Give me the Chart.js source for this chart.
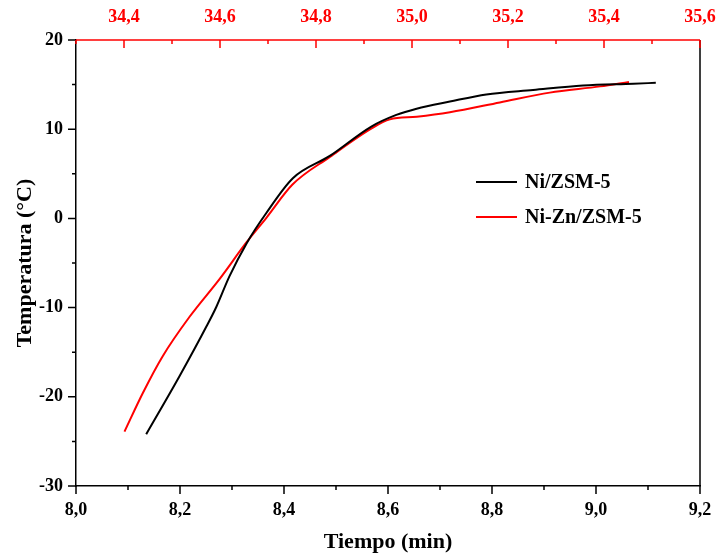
<!DOCTYPE html>
<html>
<head>
<meta charset="utf-8">
<script src="https://cdn.jsdelivr.net/npm/chart.js@4.4.1/dist/chart.umd.min.js"></script>
<style>
html, body { margin: 0; padding: 0; background: #fff; }
#wrap { width: 717px; height: 556px; }
</style>
</head>
<body>
<div id="wrap"><canvas id="chart" width="717" height="556"></canvas></div>
<script>
// Ni/ZSM-5 -> bottom axis, Tiempo (min)
var niTime = [8.135, 8.199, 8.251, 8.270, 8.295, 8.328, 8.366, 8.417, 8.488, 8.568, 8.616, 8.655, 8.719, 8.789, 8.879, 8.975, 9.072, 9.115];
var niTemp = [-24.2, -17.7, -12.1, -9.9, -6.5, -2.8, 0.6, 4.5, 7.0, 10.3, 11.6, 12.3, 13.1, 13.9, 14.4, 14.9, 15.1, 15.2];

// Ni-Zn/ZSM-5 -> top (red) axis
var niZnTime = [34.401, 34.439, 34.480, 34.537, 34.599, 34.655, 34.697, 34.751, 34.829, 34.916, 34.954, 35.010, 35.079, 35.183, 35.287, 35.392, 35.452];
var niZnTemp = [-23.9, -19.6, -15.5, -11.0, -6.8, -2.7, 0.1, 3.8, 6.9, 10.1, 11.1, 11.4, 11.9, 13.0, 14.1, 14.8, 15.3];

var bottomTicks = [8.0, 8.2, 8.4, 8.6, 8.8, 9.0, 9.2];
var bottomMinor = [8.1, 8.3, 8.5, 8.7, 8.9, 9.1];
var topTicks = [34.4, 34.6, 34.8, 35.0, 35.2, 35.4, 35.6];
var topMinor = [34.3, 34.5, 34.7, 34.9, 35.1, 35.3, 35.5];
var tempTicks = [-30, -20, -10, 0, 10, 20];
var tempMinor = [-25, -15, -5, 5, 15];

var seriesNames = ['Ni/ZSM-5', 'Ni-Zn/ZSM-5'];
var seriesColors = ['#000000', '#ff0000'];

var serif = "'Liberation Serif', 'Times New Roman', serif";

function pairs(xs, ys) {
    return xs.map(function(x, i) { return { x: x, y: ys[i] }; });
}

function comma(v) {
    return v.toFixed(1).replace('.', ',');
}

function fixTicks(list) {
    return function(scale) {
        scale.ticks = list.map(function(v) { return { value: v }; });
    };
}

function noSidePad(s) {
    s.paddingLeft = 0;
    s.paddingRight = 0;
}

// tick marks (major + minor), right frame line, legend
var frameTicks = {
    id: 'frameTicks',
    afterDraw: function(chart) {
        var ctx = chart.ctx;
        var a = chart.chartArea;
        var sx = chart.scales.x, sx2 = chart.scales.x2, sy = chart.scales.y;
        ctx.save();
        ctx.lineWidth = 1.5;

        ctx.strokeStyle = '#000';
        ctx.beginPath();
        ctx.moveTo(a.right, a.top);
        ctx.lineTo(a.right, a.bottom);
        bottomTicks.forEach(function(v) {
            var p = sx.getPixelForValue(v);
            ctx.moveTo(p, a.bottom); ctx.lineTo(p, a.bottom + 8);
        });
        bottomMinor.forEach(function(v) {
            var p = sx.getPixelForValue(v);
            ctx.moveTo(p, a.bottom); ctx.lineTo(p, a.bottom + 4);
        });
        tempTicks.forEach(function(v) {
            var p = sy.getPixelForValue(v);
            ctx.moveTo(a.left - 8, p); ctx.lineTo(a.left, p);
        });
        tempMinor.forEach(function(v) {
            var p = sy.getPixelForValue(v);
            ctx.moveTo(a.left - 4, p); ctx.lineTo(a.left, p);
        });
        ctx.stroke();

        ctx.strokeStyle = '#ff0000';
        ctx.beginPath();
        topTicks.forEach(function(v) {
            var p = sx2.getPixelForValue(v);
            ctx.moveTo(p, a.top); ctx.lineTo(p, a.top + 8);
        });
        topMinor.forEach(function(v) {
            var p = sx2.getPixelForValue(v);
            ctx.moveTo(p, a.top); ctx.lineTo(p, a.top + 4);
        });
        ctx.moveTo(a.left, a.top);
        ctx.lineTo(a.right, a.top);
        ctx.stroke();

        // legend inside the plot
        ctx.font = 'bold 20px ' + serif;
        ctx.textBaseline = 'middle';
        ctx.textAlign = 'left';
        ctx.lineWidth = 2;
        var lx = a.left + 400, ly = a.top + 142;
        chart.data.datasets.forEach(function(ds, i) {
            var y = ly + i * 35;
            ctx.strokeStyle = ds.borderColor;
            ctx.beginPath();
            ctx.moveTo(lx, y); ctx.lineTo(lx + 41, y);
            ctx.stroke();
            ctx.fillStyle = '#000';
            ctx.fillText(ds.label, lx + 49, y + 1);
        });
        ctx.restore();
    }
};

new Chart(document.getElementById('chart'), {
    type: 'line',
    data: {
        datasets: [{
            label: seriesNames[0],
            data: pairs(niTime, niTemp),
            xAxisID: 'x',
            yAxisID: 'y',
            borderColor: seriesColors[0],
            borderWidth: 2,
            pointRadius: 0,
            cubicInterpolationMode: 'monotone'
        }, {
            label: seriesNames[1],
            data: pairs(niZnTime, niZnTemp),
            xAxisID: 'x2',
            yAxisID: 'y',
            borderColor: seriesColors[1],
            borderWidth: 2,
            pointRadius: 0,
            cubicInterpolationMode: 'monotone'
        }]
    },
    options: {
        responsive: false,
        animation: false,
        devicePixelRatio: 1,
        layout: { padding: { left: 0, right: 17, top: 0, bottom: 0 } },
        plugins: {
            legend: { display: false },
            tooltip: { enabled: false }
        },
        scales: {
            x: {
                type: 'linear',
                position: 'bottom',
                min: 8.0,
                max: 9.2,
                afterBuildTicks: fixTicks(bottomTicks),
                afterFit: function(s) { s.height = 70; noSidePad(s); },
                grid: { display: false, drawTicks: false },
                border: { display: true, color: '#000', width: 1.5 },
                ticks: {
                    color: '#000',
                    padding: 14,
                    maxRotation: 0,
                    font: { family: serif, size: 18, weight: 'bold' },
                    callback: function(v) { return comma(v); }
                },
                title: {
                    display: true,
                    text: 'Tiempo (min)',
                    color: '#000',
                    padding: { top: 0, bottom: 0 },
                    font: { family: serif, size: 22, weight: 'bold' }
                }
            },
            x2: {
                type: 'linear',
                position: 'top',
                min: 34.3,
                max: 35.6,
                afterBuildTicks: fixTicks(topTicks),
                afterFit: function(s) { s.height = 40; noSidePad(s); },
                grid: { display: false, drawTicks: false },
                border: { display: false },
                ticks: {
                    color: '#ff0000',
                    padding: 12,
                    maxRotation: 0,
                    font: { family: serif, size: 18, weight: 'bold' },
                    callback: function(v) { return comma(v); }
                }
            },
            y: {
                type: 'linear',
                position: 'left',
                min: -30,
                max: 20,
                afterBuildTicks: fixTicks(tempTicks),
                afterFit: function(s) { s.width = 76; },
                grid: { display: false, drawTicks: false },
                border: { display: true, color: '#000', width: 1.5 },
                ticks: {
                    color: '#000',
                    padding: 13,
                    font: { family: serif, size: 18, weight: 'bold' },
                    callback: function(v) { return String(v); }
                },
                title: {
                    display: true,
                    text: 'Temperatura (°C)',
                    color: '#000',
                    padding: { top: 12, bottom: 0 },
                    font: { family: serif, size: 22, weight: 'bold' }
                }
            }
        }
    },
    plugins: [frameTicks]
});
</script>
</body>
</html>
